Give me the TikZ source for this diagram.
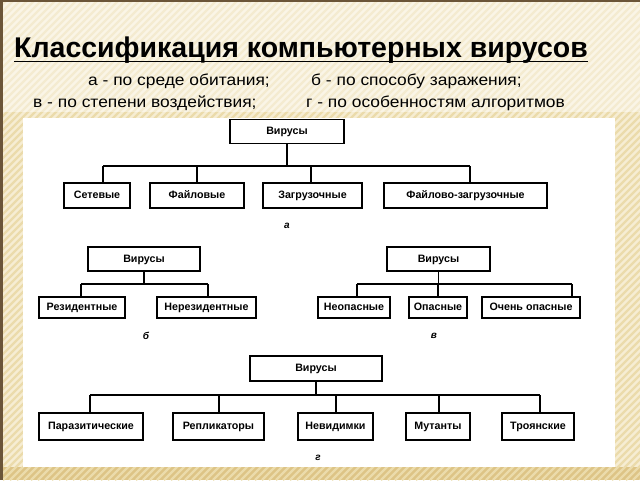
\documentclass[tikz,border=0pt]{standalone}
\usepackage{fontspec}
\setmainfont{Liberation Sans}
\newfontfamily\wideSans{Liberation Sans}[FakeStretch=1.1]
\usetikzlibrary{calc,positioning}
\definecolor{bgCream}{HTML}{F6EDD3}
\definecolor{bgStripe}{HTML}{EBDBAB}
\definecolor{bgBand}{HTML}{DDC486}
\definecolor{edgeBrown}{HTML}{6B5538}

\tikzset{
  vbox/.style={draw=black, line width=1.3pt, fill=white, inner sep=0pt,
    text height=1.6ex, text depth=0.3ex,
    font=\bfseries\fontsize{10.7}{11}\selectfont},
  link/.style={line width=1.2pt},
  caption/.style={font=\bfseries\itshape\fontsize{10}{10}\selectfont},
  subline/.style={anchor=base west, inner sep=0pt, font=\wideSans\fontsize{15.8}{16}\selectfont}
}

\begin{document}
\begin{tikzpicture}[x=1pt,y=-1pt]

      % draw the background
      \fill[bgCream] (0,0) rectangle (640,480);
      \fill[bgBand] (0,467) rectangle (640,480);
      \begin{scope}
        \clip (0,0) rectangle (640,480);
        \foreach \s in {0,7,...,1120}
        \draw[bgStripe, line width=2.2pt] (\s-480,480) -- (\s,0);
      \end{scope}
      \fill[white, opacity=0.45] (3,2) rectangle (640,112);
      \fill[edgeBrown] (0,0) rectangle (2.5,480);
      \fill[edgeBrown] (0,0) rectangle (640,1.5);
      \fill[white] (23,118) rectangle (615,467);

      % draw the heading
      \node[anchor=base west, inner sep=0pt, font=\bfseries\fontsize{28.5}{29}\selectfont]
        (title) at (14,57) {Классификация компьютерных вирусов};
      \draw[line width=1.8pt] ($(title.base west)+(0,4.5)$) -- ($(title.base east)+(0,4.5)$);
      \node[subline] (subA) at (88,85) {а - по среде обитания;};
      \node[subline] (subB) at (311,85) {б - по способу заражения;};
      \node[subline] (subC) at (33,107) {в - по степени воздействия;};
      \node[subline] (subD) at (306,107) {г - по особенностям алгоритмов};

      % tree a
      \node[vbox, minimum width=114pt, minimum height=24pt] (a0) at (287,131.5) {Вирусы};
      \def\rowA{Сетевые/64/130/103, Файловые/150/244/197,
        Загрузочные/263/362/311, Файлово-загрузочные/384/547/470}
      \foreach \name/\xl/\xr/\xd [count=\ni] in \rowA
      {
        \node[vbox, minimum width={(\xr-\xl)*1pt}, minimum height=25pt]
          (a\ni) at ({(\xl+\xr)/2},195.5) {\name};
        \coordinate (ad\ni) at (\xd,166);
        \draw[link] (ad\ni) -- (ad\ni |- a\ni.north);
      }
      \draw[link] (ad1) -- (ad4);
      \draw[link] (a0.south) -- (a0.south |- ad1);
      \node[caption] (capA) at (287,226) {а};

      % tree b
      \node[vbox, minimum width=112pt, minimum height=24pt] (b0) at (144,259) {Вирусы};
      \def\rowB{Резидентные/39/125/81, Нерезидентные/157/256/208}
      \foreach \name/\xl/\xr/\xd [count=\ni] in \rowB
      {
        \node[vbox, minimum width={(\xr-\xl)*1pt}, minimum height=21pt]
          (b\ni) at ({(\xl+\xr)/2},307.5) {\name};
        \coordinate (bd\ni) at (\xd,284);
        \draw[link] (bd\ni) -- (bd\ni |- b\ni.north);
      }
      \draw[link] (bd1) -- (bd2);
      \draw[link] (b0.south) -- (b0.south |- bd1);
      \node[caption] (capB) at (146,336) {б};

      % tree v
      \node[vbox, minimum width=103pt, minimum height=24pt] (v0) at (438.5,259) {Вирусы};
      \def\rowV{Неопасные/318/390/357, Опасные/409/467/438, Очень опасные/482/580/572}
      \foreach \name/\xl/\xr/\xd [count=\ni] in \rowV
      {
        \node[vbox, minimum width={(\xr-\xl)*1pt}, minimum height=21pt]
          (v\ni) at ({(\xl+\xr)/2},307.5) {\name};
        \coordinate (vd\ni) at (\xd,284);
        \draw[link] (vd\ni) -- (vd\ni |- v\ni.north);
      }
      \draw[link] (vd1) -- (vd3);
      \draw[link] (v0.south) -- (v0.south |- vd1);
      \node[caption] (capV) at (434,336) {в};

      % tree g
      \node[vbox, minimum width=132pt, minimum height=25pt] (g0) at (316,368.5) {Вирусы};
      \def\rowG{Паразитические/39/143/90, Репликаторы/173/264/219, Невидимки/298/373/336,
        Мутанты/406/470/439, Троянские/502/574/540}
      \foreach \name/\xl/\xr/\xd [count=\ni] in \rowG
      {
        \node[vbox, minimum width={(\xr-\xl)*1pt}, minimum height=27pt]
          (g\ni) at ({(\xl+\xr)/2},426.5) {\name};
        \coordinate (gd\ni) at (\xd,395);
        \draw[link] (gd\ni) -- (gd\ni |- g\ni.north);
      }
      \draw[link] (gd1) -- (gd5);
      \draw[link] (g0.south) -- (g0.south |- gd1);
      \node[caption] (capG) at (318,458) {г};

\end{tikzpicture}
\end{document}
